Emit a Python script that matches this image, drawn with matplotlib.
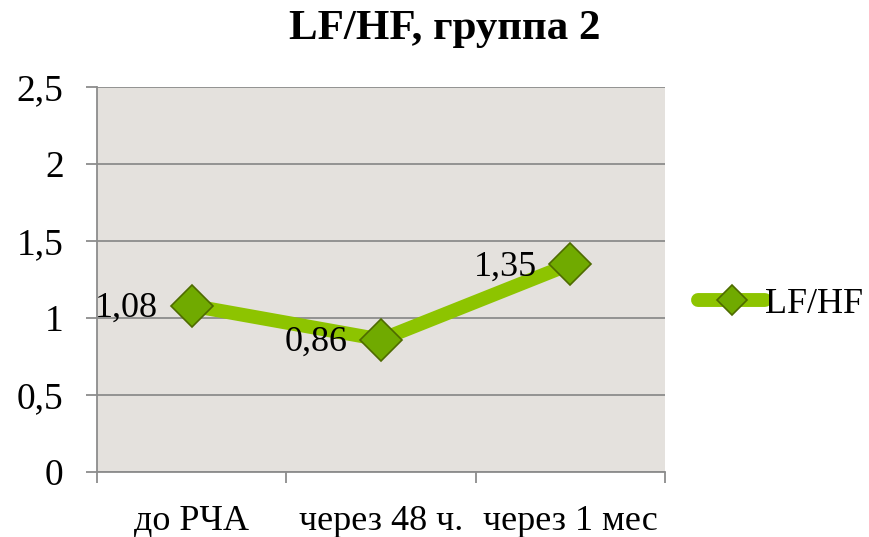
import matplotlib.pyplot as plt
import numpy as np

# data
categories = ['до РЧА', 'через 48 ч.', 'через 1 мес']
values = [1.08, 0.86, 1.35]
labels = ['1,08', '0,86', '1,35']
yticks = [0, 0.5, 1, 1.5, 2, 2.5]
ytick_labels = ['0', '0,5', '1', '1,5', '2', '2,5']

plt.rcParams['font.family'] = ['Liberation Serif', 'DejaVu Serif']

fig = plt.figure(figsize=(8.69, 5.37), dpi=100)
ax = fig.add_axes([97 / 869, 1 - 472 / 537, (665 - 97) / 869, (472 - 87) / 537])
ax.set_facecolor('#E4E1DD')

x = np.arange(len(categories))
line, = ax.plot(x, values, color='#8DC400', lw=10, solid_capstyle='round',
                marker='D', markersize=21, markerfacecolor='#70AA00',
                markeredgecolor='#4E6B00', markeredgewidth=1.2, zorder=3,
                label='LF/HF')

# data labels, placed left of points
for xi, v, t in zip(x, values, labels):
    ax.annotate(t, (xi, v), xytext=(-24, -2), textcoords='offset points',
                ha='right', va='center', fontsize=26, zorder=4)

ax.set_xlim(-0.5, len(categories) - 0.5)
ax.set_ylim(0, 2.5)
ax.set_yticks(yticks)
ax.set_yticklabels(ytick_labels, fontsize=27)
ax.yaxis.grid(True, color='#8C8C8C', lw=1.3)
ax.set_axisbelow(True)

ax.set_xticks(x)
ax.set_xticklabels(categories, fontsize=26)
ax.tick_params(axis='x', length=0, pad=24)
ax.set_xticks(np.arange(-0.5, len(categories)), minor=True)
ax.tick_params(axis='x', which='minor', length=8, color='#8C8C8C', width=1.3)
ax.tick_params(axis='y', length=8, color='#8C8C8C', width=1.3, pad=16)

for s in ['top', 'right']:
    ax.spines[s].set_visible(False)
for s in ['left', 'bottom']:
    ax.spines[s].set_color('#8C8C8C')
    ax.spines[s].set_linewidth(1.3)

fig.suptitle('LF/HF, группа 2', x=445 / 869, y=1 - 10 / 537, va='top',
             fontsize=31, fontweight='bold')

leg = fig.legend(handles=[line], loc='center left',
                 bbox_to_anchor=(684 / 869, 1 - 304 / 537), frameon=False,
                 fontsize=26, handlelength=1.85, handletextpad=0.0,
                 borderaxespad=0)
leg.legend_handles[0].set_markersize(15)

fig.savefig('out.png', dpi=100)
